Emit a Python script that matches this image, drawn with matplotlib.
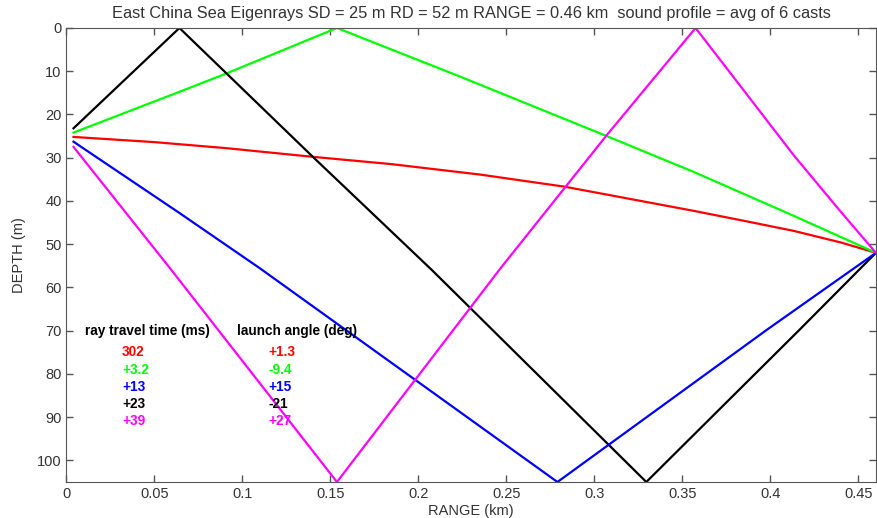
import numpy as np
import matplotlib
matplotlib.use("Agg")
import matplotlib.pyplot as plt

plt.rcParams['font.family'] = ['Liberation Sans', 'DejaVu Sans']

# eigenray paths: range (km), depth (m)
red_r = [0.004, 0.05, 0.091, 0.140, 0.185, 0.235, 0.283, 0.3565, 0.385, 0.413, 0.44, 0.46]
red_d = [25.2, 26.4, 27.8, 29.8, 31.5, 33.9, 36.7, 42.3, 44.6, 46.9, 49.6, 52.0]

green_r = [0.004, 0.0646, 0.091, 0.1537, 0.224, 0.307, 0.3565, 0.413, 0.46]
green_d = [24.2, 14.7, 10.5, 0.0, 11.3, 25.0, 33.3, 43.4, 52.0]

black_r = [0.004, 0.0642, 0.140, 0.2077, 0.3295, 0.4163, 0.46]
black_d = [23.2, 0.0, 29.8, 56.0, 105.0, 69.9, 52.0]

blue_r = [0.004, 0.0646, 0.110, 0.279, 0.398, 0.46]
blue_d = [26.3, 42.9, 55.6, 105.0, 69.8, 52.0]

magenta_r = [0.004, 0.0589, 0.1537, 0.2466, 0.307, 0.3575, 0.385, 0.413, 0.44, 0.46]
magenta_d = [27.5, 55.6, 105.0, 55.6, 24.8, 0.0, 14.5, 29.3, 42.5, 52.0]

ray_colors = ['#ff0000', '#00ff00', '#0000ff', '#000000', '#ff00ff']
travel_times = ['302', '+3.2', '+13', '+23', '+39']
launch_angles = ['+1.3', '-9.4', '+15', '-21', '+27']

fig = plt.figure(figsize=(8.77, 5.18), dpi=100)
ax = fig.add_axes([0.0758, 0.0695, 0.923, 0.8765])

ax.plot(red_r, red_d, color='#ff0000', lw=1.6)
ax.plot(green_r, green_d, color='#00ff00', lw=1.6)
ax.plot(black_r, black_d, color='#000000', lw=1.6)
ax.plot(blue_r, blue_d, color='#0000ff', lw=1.6)
ax.plot(magenta_r, magenta_d, color='#ff00ff', lw=1.6)

ax.set_xlim(0, 0.46)
ax.set_ylim(105, 0)
ax.set_xticks(np.arange(0, 0.46, 0.05))
ax.set_xticklabels(['0', '0.05', '0.1', '0.15', '0.2', '0.25', '0.3', '0.35', '0.4', '0.45'])
ax.set_yticks(np.arange(0, 101, 10))
ax.tick_params(direction='in', top=True, right=True, length=5, width=1,
               color='#555555', labelcolor='#333333', labelsize=10.5)
for s in ax.spines.values():
    s.set_color('#555555')

ax.set_title('East China Sea Eigenrays SD = 25 m RD = 52 m RANGE = 0.46 km  sound profile = avg of 6 casts',
             fontsize=11.8, color='#333333', pad=7)
ax.set_xlabel('RANGE (km)', fontsize=10.5, color='#333333', labelpad=2)
ax.set_ylabel('DEPTH (m)', fontsize=10.5, color='#333333', labelpad=8)

# legend-like text block
ax.text(0.0105, 70.1, 'ray travel time (ms)', fontsize=9.8, fontweight='bold', va='center')
ax.text(0.097, 70.1, 'launch angle (deg)', fontsize=9.8, fontweight='bold', va='center')
for i in range(5):
    y = 75 + 4 * i
    ax.text(0.0316, y, travel_times[i], color=ray_colors[i], fontsize=9.8, fontweight='bold', va='center')
    ax.text(0.1146, y, launch_angles[i], color=ray_colors[i], fontsize=9.8, fontweight='bold', va='center')

fig.savefig('out.png', dpi=100)
